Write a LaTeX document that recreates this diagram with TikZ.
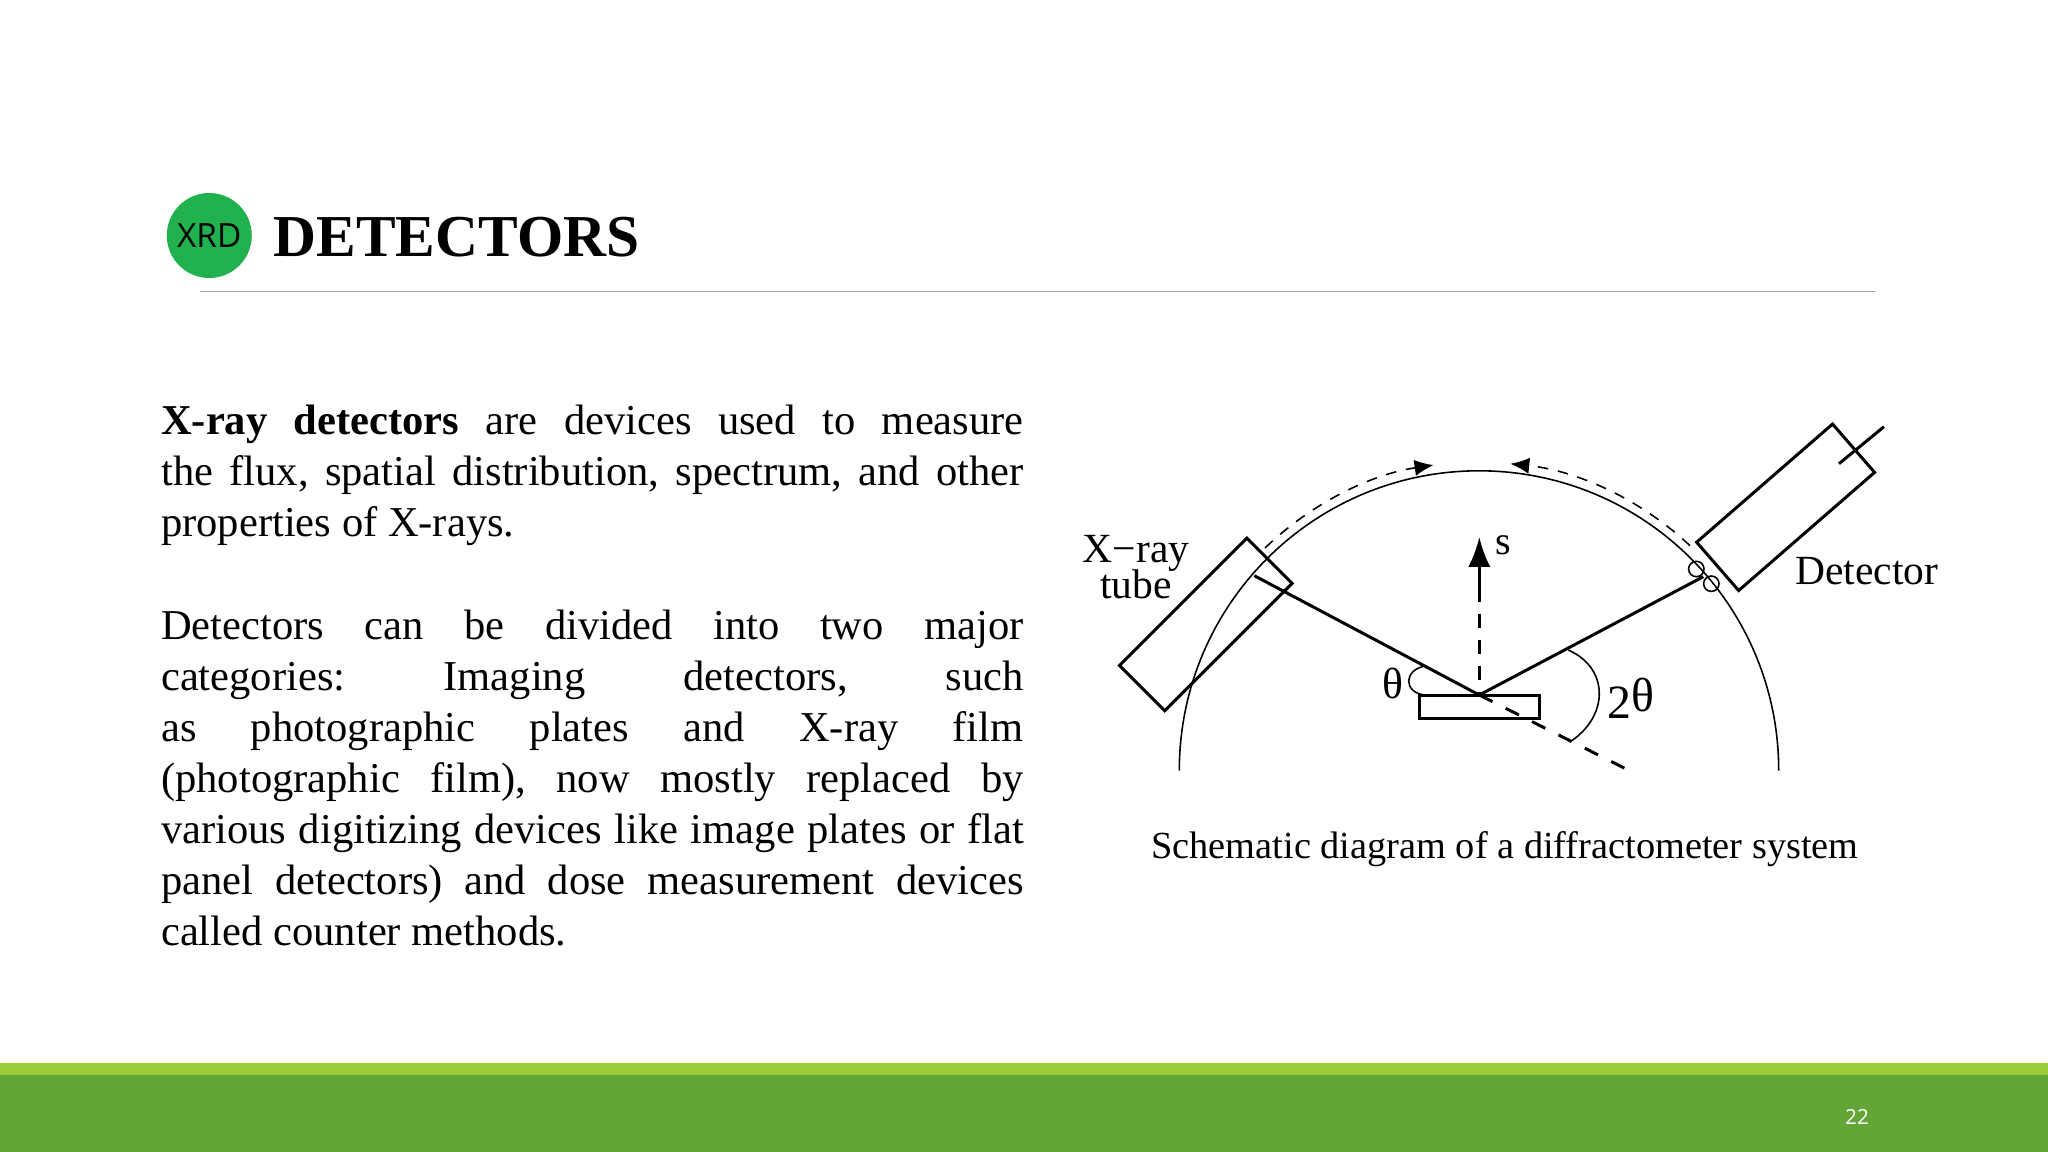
\documentclass[tikz,border=0pt]{standalone}
\usepackage{fontspec}
\setmainfont{Liberation Serif}
\setsansfont{Open Sans}
\usetikzlibrary{arrows.meta}
\newcommand{\bodysize}{\fontsize{12.1}{14.52}\selectfont}
\frenchspacing
\tikzset{
    thinline/.style={line width=0.45pt},
    heavyline/.style={line width=0.85pt},
    housing/.style={draw,heavyline,rotate=#1,minimum height=0.64cm,inner sep=0pt},
    bodytext/.style={anchor=north west,inner sep=0pt,text width=8.62cm,align=justify,font=\bodysize},
    figlabel/.style={inner sep=0pt,font=\fontsize{11.8}{10.4}\selectfont},
    swing/.style={thinline,dash pattern=on 3pt off 2.8pt,-{Latex[length=5.4pt,width=4.6pt]}},
}
\definecolor{logogreen}{HTML}{21B24F}
\definecolor{barlight}{HTML}{9BCD3A}
\definecolor{bardark}{HTML}{63A537}
\begin{document}
\begin{tikzpicture}[x=0.01cm,y=-0.01cm]
        \useasboundingbox (0,0) rectangle (2048,1152);

        % footer bars and page number
        \fill[barlight] (0,1063) rectangle (2048,1076);
        \fill[bardark] (0,1075) rectangle (2048,1152);
        \node[inner sep=0pt,white,font=\sffamily\fontsize{5.9}{7}\selectfont] (pagenum) at (1857,1116.5) {22};

        % heading
        \fill[logogreen] (209.3,235.5) circle (42.5);
        \node[inner sep=0pt,font=\sffamily\fontsize{9.5}{11}\selectfont] (logo) at (209.3,236) {XRD};
        \node[anchor=base west,inner sep=0pt,font=\bfseries\fontsize{16.9}{20}\selectfont] (title) at (273,257) {DETECTORS};
        \coordinate (ruleleft) at (199.5,291.7);
        \coordinate (ruleright) at (1875,291.7);
        \draw[line width=0.45pt,black!36] (ruleleft) -- (ruleright);

        % left column
        \node[bodytext] (intro) at (160.5,404) {\textbf{X-ray detectors} are devices used to measure\linebreak
            the flux, spatial distribution, spectrum, and other\linebreak
            properties of X-rays.};
        \node[bodytext] (kinds) at (160.5,609) {Detectors can be divided into two major\linebreak
            categories: Imaging detectors, such\linebreak
            as photographic plates and X-ray film\linebreak
            (photographic film), now mostly replaced by\linebreak
            various digitizing devices like image plates or flat\linebreak
            panel detectors) and dose measurement devices\linebreak
            called counter methods.};

        % diffractometer circle and the swing of both arms
        \coordinate (circleleft) at (1179.3,770.5);
        \draw[thinline] (circleleft) arc[start angle=-180,end angle=0,radius=299.7];
        \coordinate (swingleft) at (1265,548);
        \coordinate (swingright) at (1690,545.7);
        \draw[swing] (swingleft) arc[start angle=-133.9,end angle=-98.5,radius=309];
        \draw[swing] (swingright) arc[start angle=-46.8,end angle=-84.2,radius=308];

        % tube, detector and slits
        \node[housing=45,minimum width=1.8cm] (tube) at (1205.8,624.5) {};
        \node[housing=41,minimum width=1.8cm] (detector) at (1785.6,507.3) {};
        \coordinate (wireinner) at (1839,463.7);
        \coordinate (wireouter) at (1884,426.7);
        \draw[heavyline] (wireinner) -- (wireouter);
        \foreach \x/\y in {1696.3/569, 1711.3/583.7}
                \draw[thinline] (\x,\y) circle (7.7);

        % sample and beams
        \node[draw,heavyline,inner sep=0pt,minimum width=1.2cm,minimum height=0.225cm] (sample) at (1479.2,707) {};
        \coordinate (hit) at (1479.3,695);
        \coordinate (beamin) at (1254.3,575.7);
        \coordinate (beamout) at (1703.3,576.7);
        \coordinate (beamend) at (1626.7,769.3);
        \coordinate (normaltip) at (1479.3,537);
        \draw[heavyline] (beamin) -- (hit) -- (beamout);
        \draw[heavyline,dash pattern=on 4.2pt off 4.2pt] (hit) -- (beamend);
        \draw[heavyline,dash pattern=on 10.5pt off 3.2pt on 4.2pt off 3.2pt on 4.2pt off 3.2pt on 4.2pt off 3.2pt,{Latex[length=8.5pt,width=6.3pt]}-] (normaltip) -- (hit);

        % angle marks
        \coordinate (smallstart) at (1426.7,665.7);
        \coordinate (smallend) at (1425,695);
        \coordinate (largestart) at (1568.3,650);
        \coordinate (largeend) at (1571.7,740.7);
        \draw[thinline] (smallstart) .. controls (1403,669) and (1403,693) .. (smallend);
        \draw[thinline] (largestart) .. controls (1609,668) and (1609,715) .. (largeend);

        % labels
        \node[figlabel,align=center] (tubelabel) at (1136,567) {X\char"2212 ray\\[-1.4pt]tube};
        \node[figlabel] (detectorlabel) at (1867,571) {Detector};
        \node[figlabel,font=\fontsize{11.4}{12}\selectfont] (normallabel) at (1503,545) {s};
        \node[figlabel,font=\fontsize{12.4}{14}\selectfont] (thetalabel) at (1393.3,683) {θ};
        \node[figlabel,font=\fontsize{13.6}{14}\selectfont] (twothetalabel) at (1631,698) {2\raisebox{2pt}{θ}};
        \node[inner sep=0pt,font=\fontsize{10.9}{13}\selectfont] (caption) at (1505,849) {Schematic diagram of a diffractometer system};
\end{tikzpicture}
\end{document}
